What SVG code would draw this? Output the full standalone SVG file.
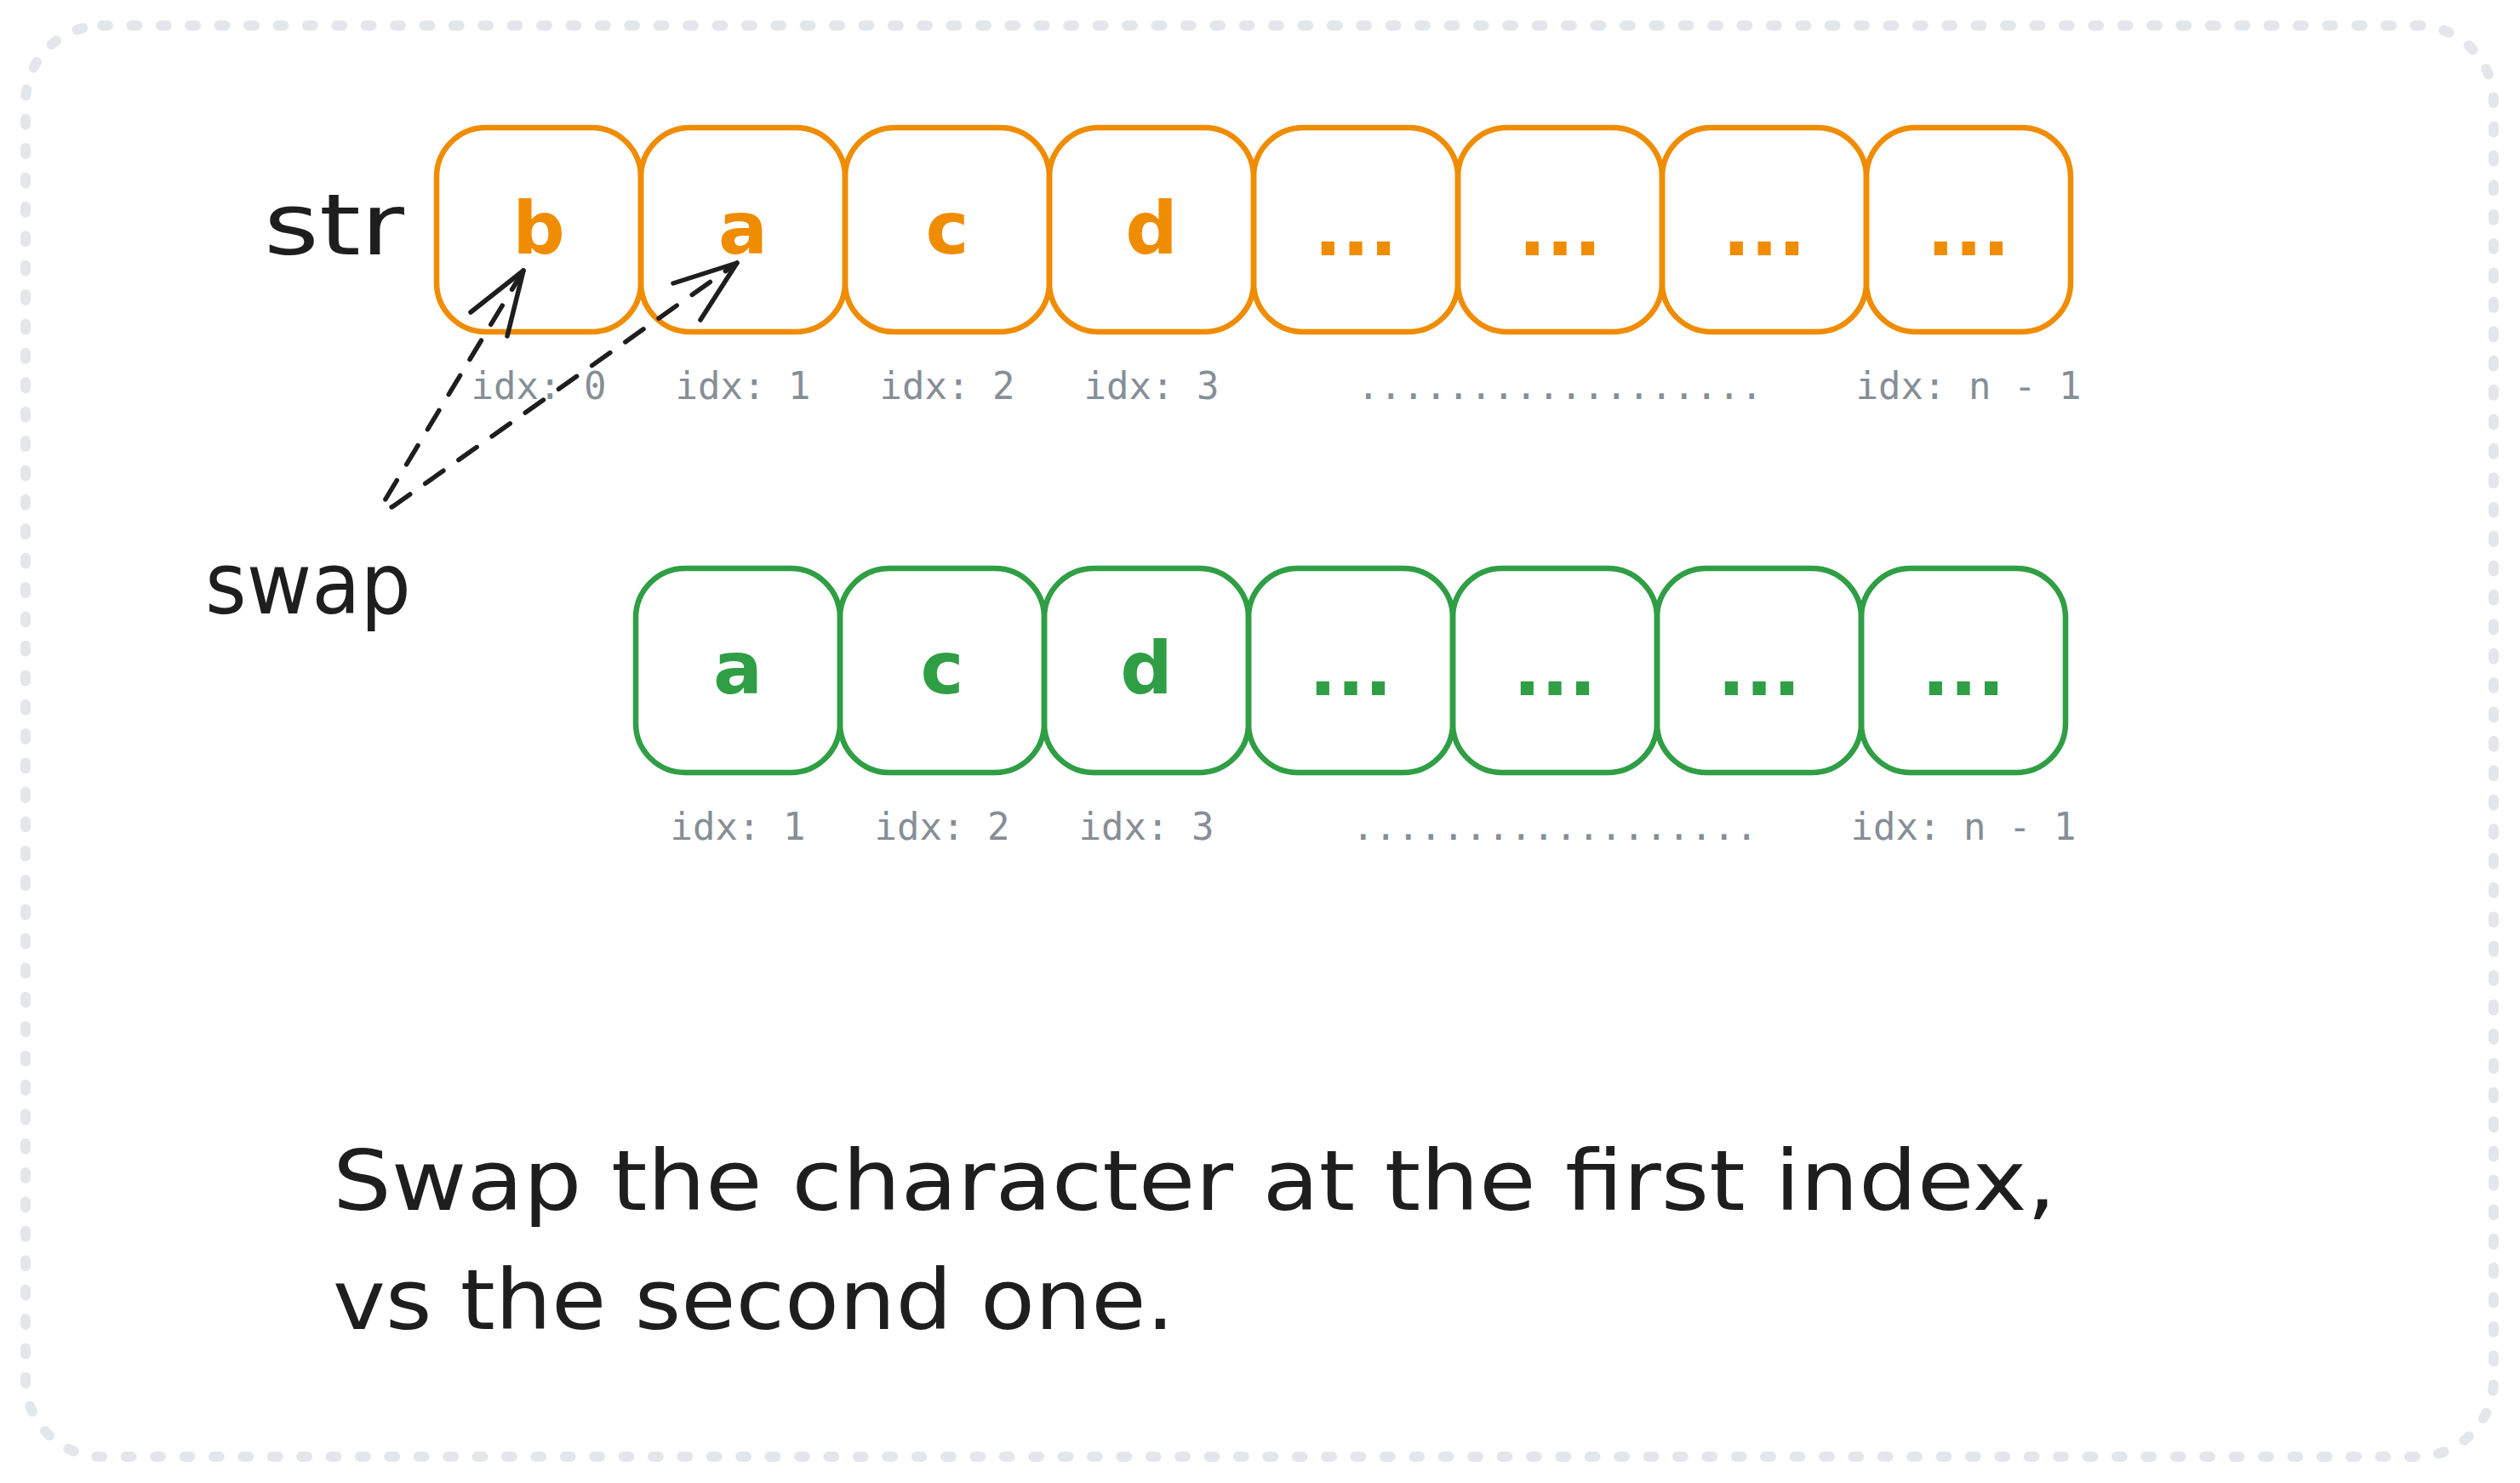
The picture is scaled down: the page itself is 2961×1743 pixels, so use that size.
<svg xmlns="http://www.w3.org/2000/svg" width="2961" height="1743" viewBox="0 0 2961 1743">
<style>
.bo{fill:none;stroke:#f08c00;stroke-width:6.5}
.bg{fill:none;stroke:#2f9e44;stroke-width:6.5}
.ch{font-family:"DejaVu Sans",sans-serif;font-weight:bold;font-size:86px;text-anchor:middle}
.co{fill:#f08c00}
.cg{fill:#2f9e44}
.idx{font-family:"DejaVu Sans Mono",monospace;font-size:44px;fill:#868e96;text-anchor:middle}
.hand{font-family:"DejaVu Sans",sans-serif;fill:#1e1e1e}
.conn{fill:none;stroke:#1e1e1e;stroke-width:5.5;stroke-linecap:round;stroke-linejoin:round}
.frame{fill:none;stroke:#e3e7eb;stroke-width:12;stroke-linecap:round;stroke-dasharray:7 27.4}
</style>
<rect x="0" y="0" width="2961" height="1743" fill="#ffffff"/>
<rect id="frame" class="frame" x="30" y="30" width="2900" height="1682" rx="90" ry="90"/>

<text id="label-str" class="hand" x="310" y="299" font-size="100" textLength="165" lengthAdjust="spacingAndGlyphs">str</text>
<text id="label-swap" class="hand" x="241" y="721" font-size="100" textLength="242" lengthAdjust="spacingAndGlyphs">swap</text>

<g id="top-row">
<g id="t0"><rect class="bo" x="513" y="150" width="240" height="240" rx="58"/><text class="ch co" x="633" y="298">b</text></g>
<g id="t1"><rect class="bo" x="753" y="150" width="240" height="240" rx="58"/><text class="ch co" x="873" y="298">a</text></g>
<g id="t2"><rect class="bo" x="993" y="150" width="240" height="240" rx="58"/><text class="ch co" x="1113" y="298">c</text></g>
<g id="t3"><rect class="bo" x="1233" y="150" width="240" height="240" rx="58"/><text class="ch co" x="1353" y="298">d</text></g>
<g id="t4"><rect class="bo" x="1473" y="150" width="240" height="240" rx="58"/><text class="ch co" x="1593" y="300">...</text></g>
<g id="t5"><rect class="bo" x="1713" y="150" width="240" height="240" rx="58"/><text class="ch co" x="1833" y="300">...</text></g>
<g id="t6"><rect class="bo" x="1953" y="150" width="240" height="240" rx="58"/><text class="ch co" x="2073" y="300">...</text></g>
<g id="t7"><rect class="bo" x="2193" y="150" width="240" height="240" rx="58"/><text class="ch co" x="2313" y="300">...</text></g>
</g>
<g id="top-labels">
<text class="idx" x="633" y="469">idx: 0</text>
<text class="idx" x="873" y="469">idx: 1</text>
<text class="idx" x="1113" y="469">idx: 2</text>
<text class="idx" x="1353" y="469">idx: 3</text>
<text class="idx" x="1833" y="469">..................</text>
<text class="idx" x="2313" y="469">idx: n - 1</text>
</g>

<g id="bottom-row">
<g id="g0"><rect class="bg" x="747" y="668" width="240" height="240" rx="58"/><text class="ch cg" x="867" y="815">a</text></g>
<g id="g1"><rect class="bg" x="987" y="668" width="240" height="240" rx="58"/><text class="ch cg" x="1107" y="815">c</text></g>
<g id="g2"><rect class="bg" x="1227" y="668" width="240" height="240" rx="58"/><text class="ch cg" x="1347" y="815">d</text></g>
<g id="g3"><rect class="bg" x="1467" y="668" width="240" height="240" rx="58"/><text class="ch cg" x="1587" y="817">...</text></g>
<g id="g4"><rect class="bg" x="1707" y="668" width="240" height="240" rx="58"/><text class="ch cg" x="1827" y="817">...</text></g>
<g id="g5"><rect class="bg" x="1947" y="668" width="240" height="240" rx="58"/><text class="ch cg" x="2067" y="817">...</text></g>
<g id="g6"><rect class="bg" x="2187" y="668" width="240" height="240" rx="58"/><text class="ch cg" x="2307" y="817">...</text></g>
</g>
<g id="bottom-labels">
<text class="idx" x="867" y="987">idx: 1</text>
<text class="idx" x="1107" y="987">idx: 2</text>
<text class="idx" x="1347" y="987">idx: 3</text>
<text class="idx" x="1827" y="987">..................</text>
<text class="idx" x="2307" y="987">idx: n - 1</text>
</g>

<g id="connectors">
<path class="conn" stroke-dasharray="26 22" d="M 615,318 L 451,590 Q 446,604 462,595 L 866,309"/>
<path class="conn" d="M 553,367 L 615,318 L 596,395"/>
<path class="conn" d="M 791,333 L 866,309 L 823,376"/>
</g>

<g id="caption">
<text class="hand" x="391" y="1422" font-size="98" textLength="2025" lengthAdjust="spacingAndGlyphs">Swap the character at the first index,</text>
<text class="hand" x="391" y="1562" font-size="98" textLength="989" lengthAdjust="spacingAndGlyphs">vs the second one.</text>
</g>
</svg>
